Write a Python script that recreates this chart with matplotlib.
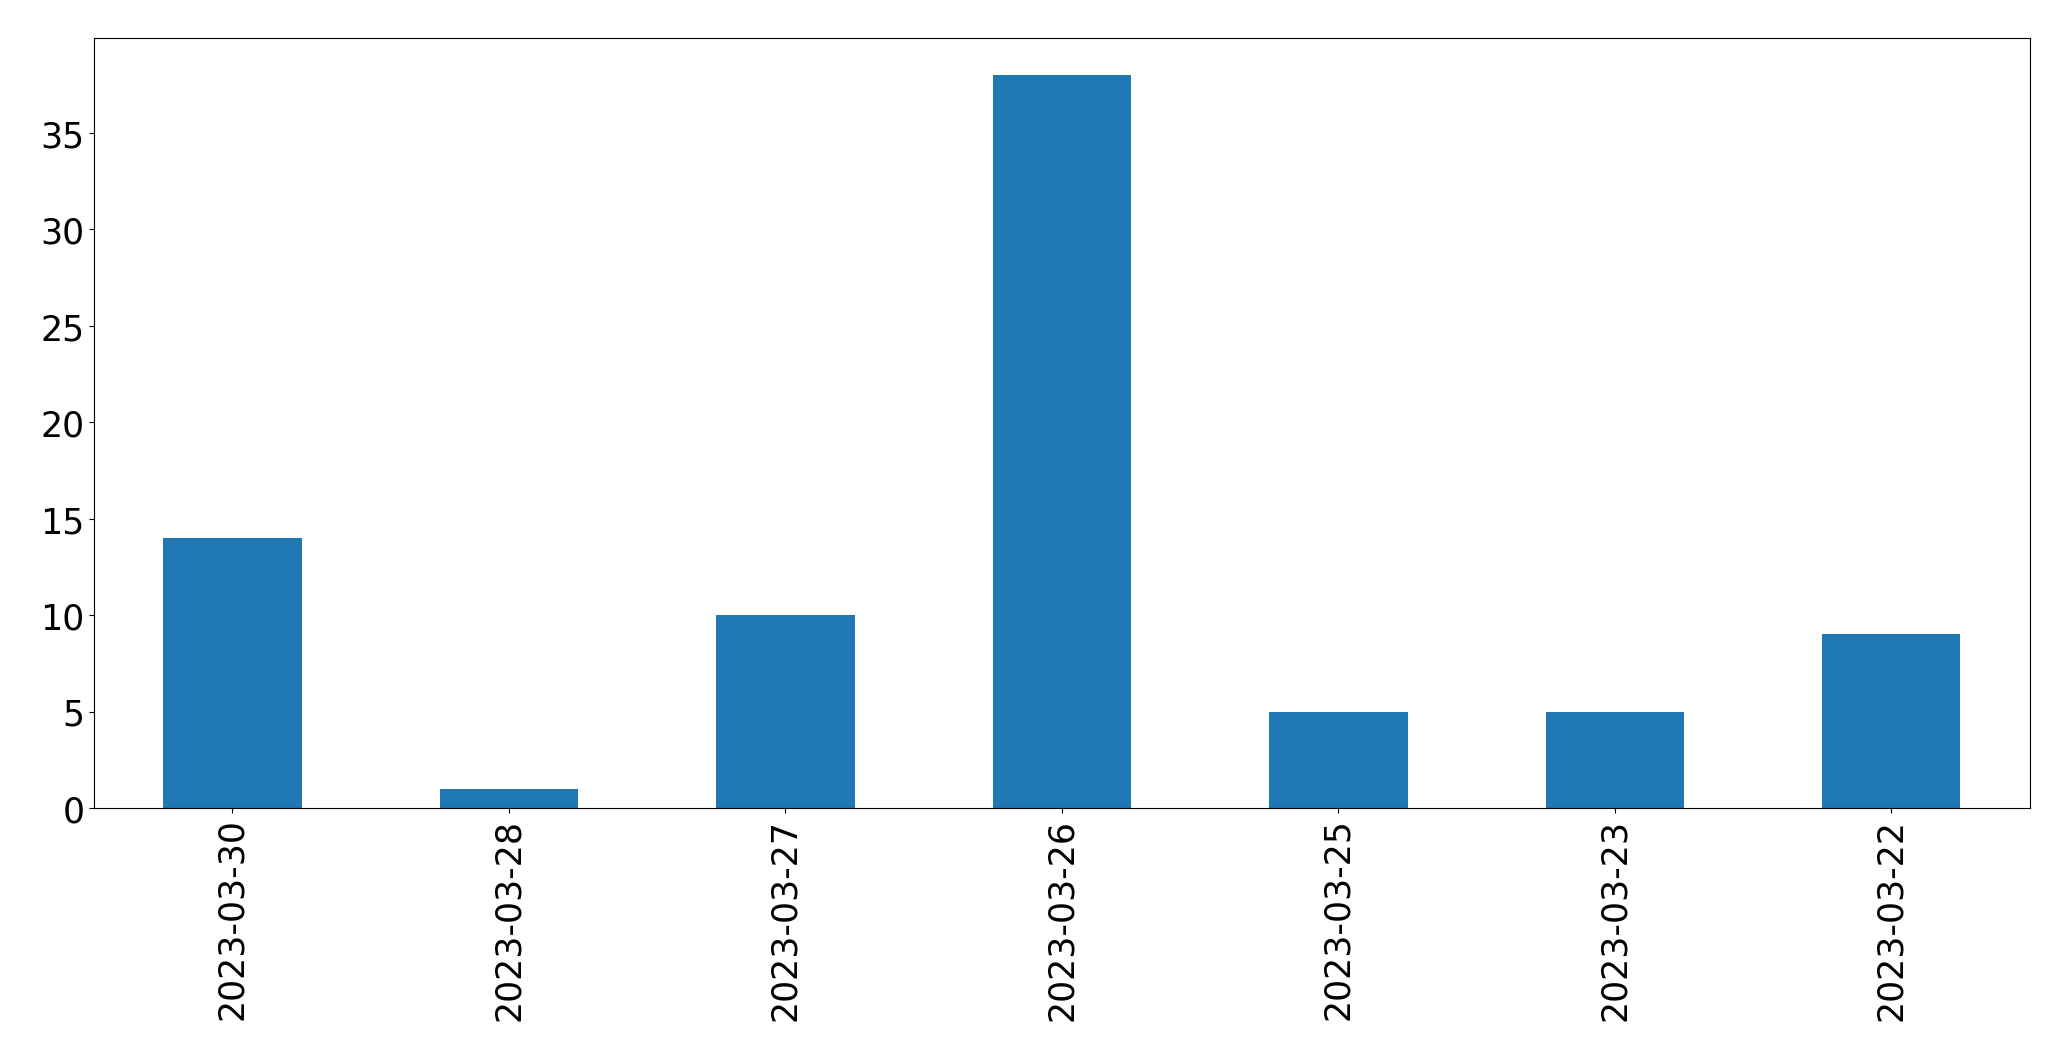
import matplotlib.pyplot as plt

dates = ["2023-03-30", "2023-03-28", "2023-03-27", "2023-03-26",
         "2023-03-25", "2023-03-23", "2023-03-22"]
counts = [14, 1, 10, 38, 5, 5, 9]

fig = plt.figure(figsize=(20.71, 10.608), dpi=100)
ax = fig.add_axes([0.0455, 0.2375, 0.9345, 0.7255])

x = range(len(dates))
ax.bar(x, counts, width=0.5, color="#1f77b4")
ax.set_xlim(-0.5, len(dates) - 0.5)
ax.set_ylim(0, max(counts) * 1.05)
ax.set_xticks(list(x))
ax.set_xticklabels(dates, rotation=90)
ax.tick_params(labelsize=25)

fig.savefig("out.png", dpi=100)
